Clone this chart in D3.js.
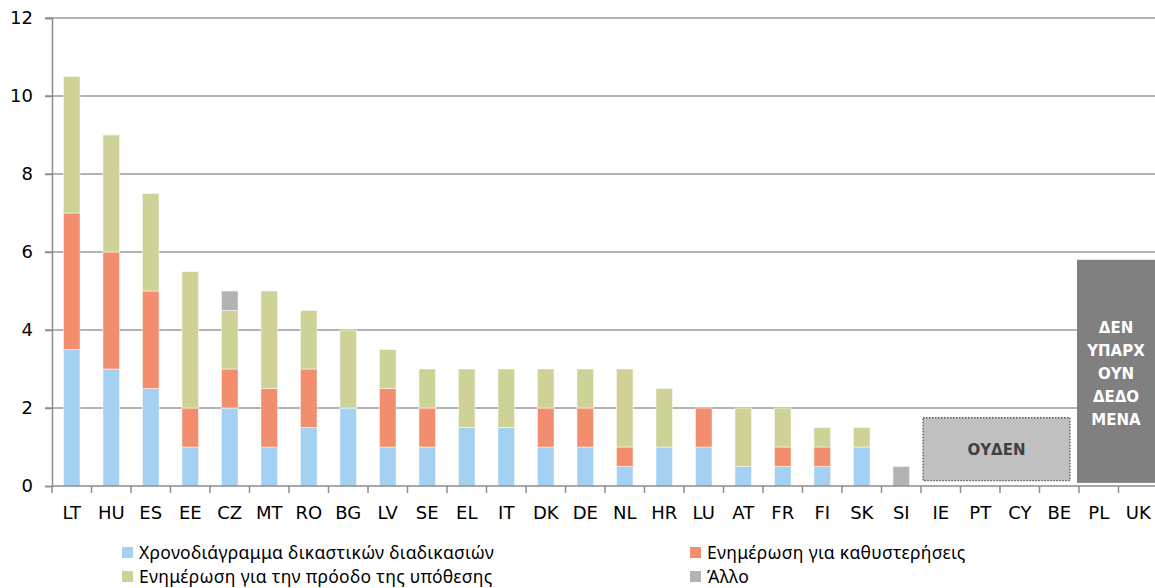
<!DOCTYPE html>
<html>
<head>
<meta charset="utf-8">
<script src="https://cdn.jsdelivr.net/npm/d3@7"></script>
<style>
  body { margin: 0; background: #fff; }
  text { font-family: "DejaVu Sans", sans-serif; }
</style>
</head>
<body>
<svg id="chart" width="1155" height="588"></svg>
<script>
// values
const countries = ["LT","HU","ES","EE","CZ","MT","RO","BG","LV","SE","EL","IT","DK","DE","NL","HR","LU","AT","FR","FI","SK","SI","IE","PT","CY","BE","PL","UK"];
const timeline  = [3.5, 3, 2.5, 1, 2, 1, 1.5, 2, 1, 1, 1.5, 1.5, 1, 1, 0.5, 1, 1, 0.5, 0.5, 0.5, 1, 0, 0, 0, 0, 0, 0, 0];
const delays    = [3.5, 3, 2.5, 1, 1, 1.5, 1.5, 0, 1.5, 1, 0, 0, 1, 1, 0.5, 0, 1, 0, 0.5, 0.5, 0, 0, 0, 0, 0, 0, 0, 0];
const progress  = [3.5, 3, 2.5, 3.5, 1.5, 2.5, 1.5, 2, 1, 1, 1.5, 1.5, 1, 1, 2, 1.5, 0, 1.5, 1, 0.5, 0.5, 0, 0, 0, 0, 0, 0, 0];
const other     = [0, 0, 0, 0, 0.5, 0, 0, 0, 0, 0, 0, 0, 0, 0, 0, 0, 0, 0, 0, 0, 0, 0.5, 0, 0, 0, 0, 0, 0];

const seriesKeys = ["timeline", "delays", "progress", "other"];
const seriesNames = ["Χρονοδιάγραμμα δικαστικών διαδικασιών", "Ενημέρωση για καθυστερήσεις", "Ενημέρωση για την πρόοδο της υπόθεσης", "Άλλο"];
const colors = ["#a4d1f1", "#f28e6d", "#ced296", "#b2b3b2"];
const yTicks = [0, 2, 4, 6, 8, 10, 12];

const noneCountries = ["IE", "PT", "CY", "BE"];
const noneLabel = "ΟΥΔΕΝ";
const noDataCountries = ["PL", "UK"];
const noDataLines = ["ΔΕΝ", "ΥΠΑΡΧ", "ΟΥΝ", "ΔΕΔΟ", "ΜΕΝΑ"];

const rows = countries.map((c, i) => ({
  country: c, timeline: timeline[i], delays: delays[i], progress: progress[i], other: other[i]
}));

const svg = d3.select("#chart");
const plotL = 52, plotR = 1158, plotT = 18, plotB = 486;

const x = d3.scaleBand().domain(countries).range([plotL, plotR]).paddingInner(0.58).paddingOuter(0.29);
const xEdge = d3.scaleBand().domain(countries).range([plotL, plotR]);
const y = d3.scaleLinear().domain([0, 12]).range([plotB, plotT]);

// gridlines
svg.append("g")
  .selectAll("line")
  .data(yTicks.filter(d => d > 0))
  .enter()
  .append("line")
  .attr("x1", plotL - 7).attr("x2", 1155)
  .attr("y1", d => y(d)).attr("y2", d => y(d))
  .style("stroke", "#9a9a9a")
  .style("stroke-width", "1.5px");

// y axis
const yAxis = svg.append("g")
  .attr("transform", `translate(${plotL},0)`)
  .call(d3.axisLeft(y).tickValues(yTicks).tickSize(7).tickPadding(12));
yAxis.select(".domain").style("stroke", "#8c8c8c").style("stroke-width", "1.5px");
yAxis.selectAll(".tick line").style("stroke", "#8c8c8c").style("stroke-width", "1.5px");
yAxis.selectAll("text").style("font-size", "18px").style("fill", "#000");

// stacked bars
const stacked = d3.stack().keys(seriesKeys)(rows);
svg.append("g")
  .selectAll("g")
  .data(stacked)
  .enter()
  .append("g")
  .attr("fill", (d, i) => colors[i])
  .selectAll("rect")
  .data(d => d.filter(s => s[1] - s[0] > 0))
  .enter()
  .append("rect")
  .attr("x", d => x(d.data.country))
  .attr("width", x.bandwidth())
  .attr("y", d => y(d[1]))
  .attr("height", d => y(d[0]) - y(d[1]))
  .style("stroke", "#ffffff")
  .style("stroke-opacity", 0.5)
  .style("stroke-width", "1px");

// x axis
const xAxis = svg.append("g")
  .attr("transform", `translate(0,${plotB})`);
xAxis.append("line")
  .attr("x1", plotL).attr("x2", 1155)
  .style("stroke", "#8c8c8c").style("stroke-width", "1.5px");
xAxis.selectAll("line.tk")
  .data(countries.slice(0).concat(["end"]))
  .enter()
  .append("line")
  .attr("class", "tk")
  .attr("x1", (d, i) => plotL + i * xEdge.bandwidth())
  .attr("x2", (d, i) => plotL + i * xEdge.bandwidth())
  .attr("y1", 0).attr("y2", 7)
  .style("stroke", "#8c8c8c").style("stroke-width", "1.5px");
xAxis.selectAll("text")
  .data(countries)
  .enter()
  .append("text")
  .attr("x", d => x(d) + x.bandwidth() / 2)
  .attr("y", 33)
  .attr("text-anchor", "middle")
  .style("font-size", "18px")
  .text(d => d);

// "none" box
const nx0 = xEdge(noneCountries[0]) + 2;
const nx1 = xEdge(noneCountries[noneCountries.length - 1]) + xEdge.bandwidth() - 9;
const ny0 = y(1.75), ny1 = y(0.14);
svg.append("rect")
  .attr("x", nx0).attr("y", ny0)
  .attr("width", nx1 - nx0).attr("height", ny1 - ny0)
  .attr("fill", "#c0c0c0")
  .style("stroke", "#555")
  .style("stroke-width", "1.3px")
  .style("stroke-dasharray", "1.5,1.5");
svg.append("text")
  .attr("x", (nx0 + nx1) / 2).attr("y", 455)
  .attr("text-anchor", "middle")
  .style("font-size", "15px")
  .style("font-weight", "bold")
  .style("fill", "#404040")
  .text(noneLabel);

// "no data" box
const dx0 = xEdge(noDataCountries[0]) - 2;
const dy0 = y(5.8), dy1 = y(0.08);
svg.append("rect")
  .attr("x", dx0).attr("y", dy0)
  .attr("width", 1155 - dx0).attr("height", dy1 - dy0)
  .attr("fill", "#808080");
svg.append("g")
  .selectAll("text")
  .data(noDataLines)
  .enter()
  .append("text")
  .attr("x", (dx0 + 1155) / 2)
  .attr("y", (d, i) => 333 + i * 23)
  .attr("text-anchor", "middle")
  .style("font-size", "15px")
  .style("font-weight", "bold")
  .style("fill", "#fff")
  .text(d => d);

// legend
const legendPos = [[122, 547], [690, 547], [122, 571], [690, 571]];
const legend = svg.append("g")
  .selectAll("g")
  .data(seriesNames)
  .enter()
  .append("g")
  .attr("transform", (d, i) => `translate(${legendPos[i][0]},${legendPos[i][1]})`);
legend.append("rect")
  .attr("x", 0).attr("y", 0)
  .attr("width", 11).attr("height", 11)
  .attr("fill", (d, i) => colors[i]);
legend.append("text")
  .attr("x", 17).attr("y", 11.5)
  .style("font-size", "17.5px")
  .style("letter-spacing", "0.3px")
  .style("font-family", "'Noto Sans', sans-serif")
  .text(d => d);
</script>
</body>
</html>
